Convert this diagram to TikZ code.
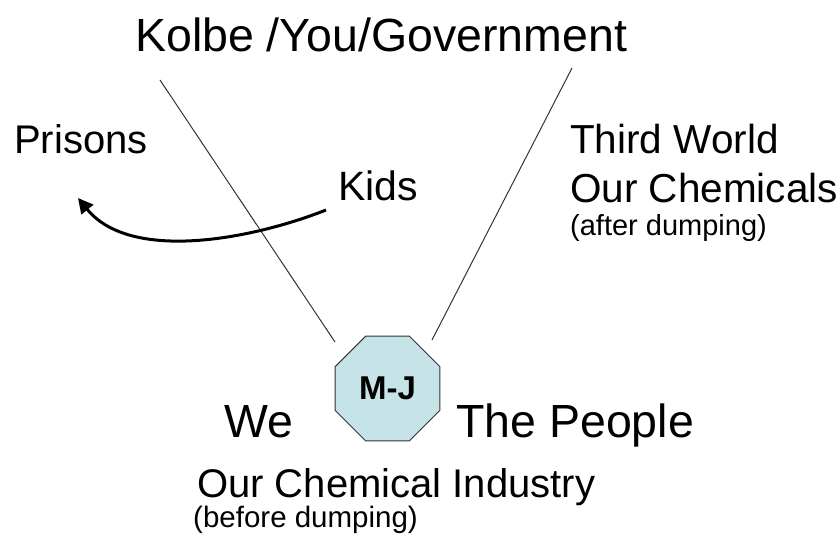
\documentclass[tikz,border=0pt]{standalone}
\usepackage{fontspec}
\setmainfont{Liberation Sans}
\usetikzlibrary{shapes.geometric,arrows.meta}
\definecolor{octfill}{HTML}{C6E4E8}
\definecolor{raygrey}{HTML}{333333}
\newcommand{\fsz}[1]{\fontsize{#1}{#1}\selectfont}

\begin{document}
\begin{tikzpicture}[x=1pt,y=-1pt,
    lbl/.style={anchor=base west,inner sep=0pt},
    ray/.style={draw=raygrey,line width=1pt}]
    \useasboundingbox (0,0) rectangle (839,538);
    \node[lbl,font=\fsz{46.5}] (gov) at (135,52) {Kolbe /You/Government};
    \node[lbl,font=\fsz{40}] (prisons) at (14,153) {Prisons};
    \node[lbl,font=\fsz{41}] (kids) at (338,200) {Kids};
    \node[lbl,font=\fsz{40.5}] (third) at (570,153) {Third World};
    \node[lbl,font=\fsz{40.5}] (chems) at (570,202) {Our Chemicals};
    \node[lbl,font=\fsz{29}] (after) at (570,235) {(after dumping)};
    \node[lbl,font=\fsz{46.5}] (we) at (224,437) {We};
    \node[lbl,font=\fsz{46.5}] (people) at (456,437) {The People};
    \node[lbl,font=\fsz{40}] (industry) at (197,497) {Our Chemical Industry};
    \node[lbl,font=\fsz{29.5}] (before) at (193,527) {(before dumping)};
    \node[regular polygon,regular polygon sides=8,minimum size=113.6pt,inner sep=0pt,
          fill=octfill,draw=raygrey,line width=1pt,font=\fsz{33}\bfseries] (mj) at (387.5,388.5) {M-J};
    \coordinate (rayLtop) at (160,80);   \coordinate (rayLend) at (335,342);
    \coordinate (rayRtop) at (572,68);   \coordinate (rayRend) at (432,340);
    \coordinate (kidsout) at (326,210);  \coordinate (prisin) at (78,198);
    \draw[ray] (rayLtop) -- (rayLend);
    \draw[ray] (rayRtop) -- (rayRend);
    \draw[line width=3pt,-{Triangle[length=15pt,width=15pt]}] (kidsout) .. controls (250,240) and (130,262) .. (prisin);
\end{tikzpicture}
\end{document}
